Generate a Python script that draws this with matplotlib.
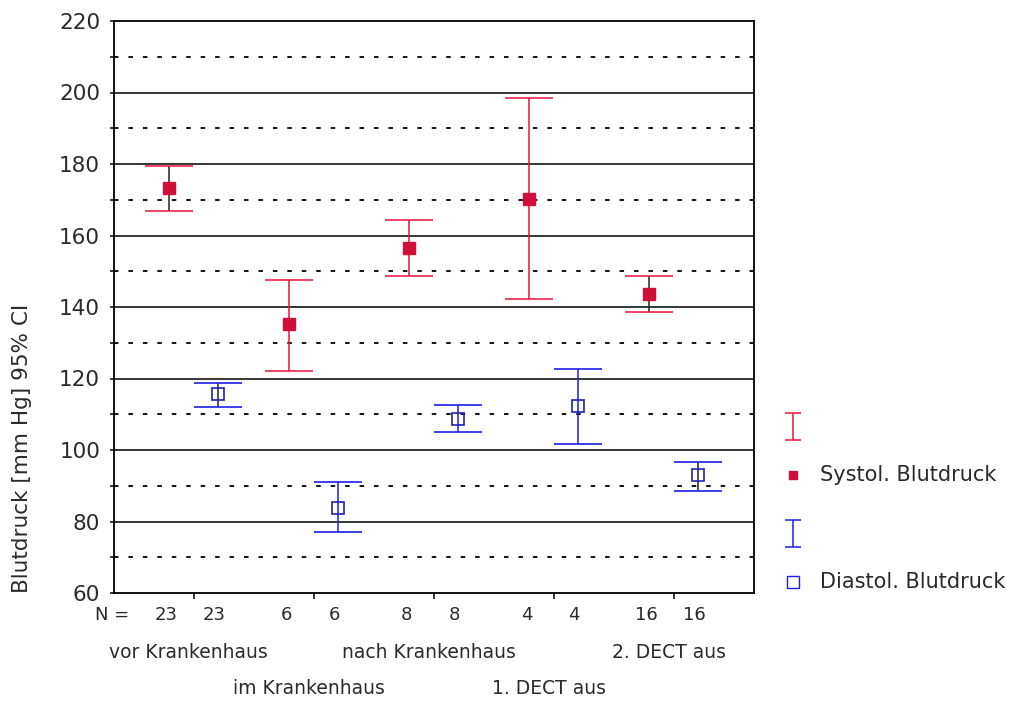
import numpy as np
import matplotlib
matplotlib.use("Agg")
import matplotlib.pyplot as plt

plt.rcParams['font.family'] = ['DejaVu Sans']

groups = ["vor Krankenhaus", "im Krankenhaus", "nach Krankenhaus", "1. DECT aus", "2. DECT aus"]
n_sys = [23, 6, 8, 4, 16]
n_dia = [23, 6, 8, 4, 16]

sys_mean = [173.4, 135.2, 156.4, 170.2, 143.5]
sys_low = [166.9, 122.2, 148.7, 142.3, 138.5]
sys_high = [179.4, 147.6, 164.3, 198.6, 148.6]

dia_mean = [115.6, 83.7, 108.7, 112.4, 93.0]
dia_low = [112.1, 77.1, 104.9, 101.6, 88.6]
dia_high = [118.8, 91.0, 112.6, 122.6, 96.7]

red = '#e8143c'
red_fill = '#d0103a'
blue = '#1e1ee6'
txt = '#2a2a2a'

fig = plt.figure(figsize=(10.15, 7.01), dpi=100)
ax = fig.add_axes([114 / 1015, 1 - 593 / 701, 640 / 1015, 572 / 701])

pos = np.arange(1, len(groups) + 1)
off = 0.204
xs = pos - off
xd = pos + off

# gitterlinien
for v in range(80, 220, 20):
    ax.axhline(v, color='black', lw=1.1, zorder=1)
for v in range(70, 220, 20):
    ax.axhline(v, color='black', lw=1.3, ls=(0, (2.5, 5.5)), zorder=1)

# in den kurzen Balken (Gruppe 1 und 5) ist der Steg im Original schwarz
dark_stem = [True, False, False, False, True]

sm = np.array(sys_mean)
eb = ax.errorbar(xs, sm, yerr=[sm - np.array(sys_low), np.array(sys_high) - sm],
                 fmt='s', color=red, ecolor=red, mfc=red_fill, mec=red_fill, ms=9,
                 elinewidth=1.1, capsize=17, capthick=1.1, zorder=3)
eb[2][0].set_colors(['#222222' if d else red for d in dark_stem])

dm = np.array(dia_mean)
eb = ax.errorbar(xd, dm, yerr=[dm - np.array(dia_low), np.array(dia_high) - dm],
                 fmt='s', color=blue, ecolor=blue, mfc='none', mec='#2020b0', ms=9, mew=1.2,
                 elinewidth=1.1, capsize=17, capthick=1.1, zorder=3)
eb[2][0].set_colors(['#222222' if d else blue for d in dark_stem])

ax.set_xlim(0.3375, 5.667)
ax.set_ylim(60, 220)
ax.set_yticks(range(60, 221, 20))
ax.set_yticks(range(70, 220, 20), minor=True)
ax.tick_params(axis='y', which='both', direction='out', length=3, width=1.1,
               labelsize=15.5, labelcolor=txt, pad=7)
ax.set_xticks(pos)
ax.set_xticklabels([])
ax.tick_params(axis='x', direction='out', length=4, width=1.1)
for s in ax.spines.values():
    s.set_linewidth(1.3)

tr = ax.get_xaxis_transform()
ax.text(0.32, -0.0385, "N =", transform=tr, ha='center', va='center', fontsize=13, color=txt)
for i in range(len(groups)):
    ax.text(xs[i] - 0.025, -0.0385, str(n_sys[i]), transform=tr, ha='center', va='center',
            fontsize=13, color=txt)
    ax.text(xd[i] - 0.035, -0.0385, str(n_dia[i]), transform=tr, ha='center', va='center',
            fontsize=13, color=txt)
    yy = -0.1035 if i % 2 == 0 else -0.1664
    ax.text(pos[i] - 0.04, yy, groups[i], transform=tr, ha='center', va='center',
            fontsize=13.5, color=txt)

fig.text(22 / 1015, 1 - 448 / 701, "Blutdruck [mm Hg] 95% CI", rotation=90,
         ha='center', va='center', fontsize=15.5, color=txt)

# legende
lax = fig.add_axes([0, 0, 1, 1])
lax.set_xlim(0, 1015)
lax.set_ylim(701, 0)
lax.axis('off')
lax.errorbar([793], [426.5], yerr=[[13.5], [13.5]], fmt='none', ecolor=red,
             elinewidth=1.1, capsize=5.5, capthick=1.1)
lax.plot([793], [475], 's', mfc=red_fill, mec=red_fill, ms=6)
lax.text(820, 475, "Systol. Blutdruck", ha='left', va='center', fontsize=15, color=txt)
lax.errorbar([793], [533.5], yerr=[[13.5], [13.5]], fmt='none', ecolor=blue,
             elinewidth=1.1, capsize=5.5, capthick=1.1)
lax.plot([793], [582], 's', mfc='none', mec=blue, ms=8, mew=1.0)
lax.text(820, 582, "Diastol. Blutdruck", ha='left', va='center', fontsize=15, color=txt)

fig.savefig("out.png", dpi=100)
